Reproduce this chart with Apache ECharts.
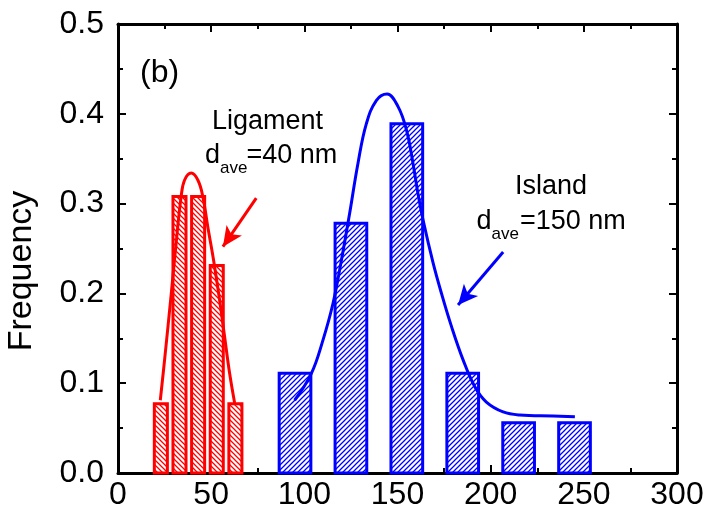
<!DOCTYPE html>
<html>
<head>
<meta charset="utf-8">
<script src="https://cdn.jsdelivr.net/npm/echarts@6/dist/echarts.min.js"></script>
<style>
  html, body { margin: 0; padding: 0; background: #fff; }
</style>
</head>
<body>
<div id="main" style="width: 709px;height: 516px;"></div>
<script>
  // histogram bins (size in nm) and frequencies
  let ligCenters = [23, 33, 43, 53, 63]
  let ligFreq = [0.077, 0.308, 0.308, 0.231, 0.077]
  let islCenters = [95, 125, 155, 185, 215, 245]
  let islFreq = [0.111, 0.278, 0.389, 0.111, 0.056, 0.056]

  // fitted curves
  let ligFitX = [22.7, 25, 28.6, 31.2, 33.9, 35.7, 39.3, 42.9, 45.5, 48.2, 51.3, 54.5, 57.2, 59.9, 62.6]
  let ligFitY = [0.081, 0.126, 0.200, 0.256, 0.308, 0.326, 0.334, 0.326, 0.308, 0.274, 0.237, 0.193, 0.152, 0.111, 0.078]
  let islFitX = [94.8, 103.8, 110, 115.4, 119.9, 124.3, 128.8, 133.3, 138.7, 144.4, 150.3, 154.8, 158.3, 161, 163.7, 169.1, 173.6, 179, 185.2, 191.5, 197.7, 206.7, 215.6, 233.5, 245.2]
  let islFitY = [0.081, 0.111, 0.148, 0.189, 0.237, 0.289, 0.345, 0.389, 0.415, 0.422, 0.408, 0.382, 0.345, 0.311, 0.282, 0.234, 0.200, 0.163, 0.126, 0.096, 0.079, 0.068, 0.0646, 0.0635, 0.0627]

  let xTicks = [0, 50, 100, 150, 200, 250, 300]
  let yTicks = [0.0, 0.1, 0.2, 0.3, 0.4, 0.5]

  let red = '#ff0000'
  let blue = '#0000ff'
  let font = '"Liberation Sans", Arial, sans-serif'

  function hatch (color, dir) {
    let s = 5
    let c = document.createElement('canvas')
    c.width = s
    c.height = s
    let g = c.getContext('2d')
    g.fillStyle = '#fff'
    g.fillRect(0, 0, s, s)
    g.strokeStyle = color
    g.lineWidth = 1.3
    g.beginPath()
    if (dir > 0) {
      g.moveTo(0, s); g.lineTo(s, 0)
      g.moveTo(-1, 1); g.lineTo(1, -1)
      g.moveTo(s - 1, s + 1); g.lineTo(s + 1, s - 1)
    } else {
      g.moveTo(0, 0); g.lineTo(s, s)
      g.moveTo(-1, s - 1); g.lineTo(1, s + 1)
      g.moveTo(s - 1, -1); g.lineTo(s + 1, 1)
    }
    g.stroke()
    return c
  }

  function barSeries (name, centers, freq, width, color, dir) {
    let pattern = hatch(color, dir)
    return {
      name: name,
      type: 'custom',
      silent: true,
      data: centers.map((c, i) => [c, freq[i]]),
      renderItem: function (params, api) {
        let x = api.value(0)
        let y = api.value(1)
        let p0 = api.coord([x - width / 2, y])
        let p1 = api.coord([x + width / 2, 0])
        return {
          type: 'rect',
          shape: { x: p0[0], y: p0[1], width: p1[0] - p0[0], height: p1[1] - p0[1] },
          style: { fill: { image: pattern, repeat: 'repeat' }, stroke: color, lineWidth: 3 }
        }
      }
    }
  }

  function arrow (from, to, color) {
    return {
      silent: true,
      animation: false,
      symbol: ['none', 'arrow'],
      symbolSize: [14, 20],
      label: { show: false },
      lineStyle: { color: color, width: 3, type: 'solid' },
      data: [[{ coord: from }, { coord: to }]]
    }
  }

  function axisCommon (show) {
    return {
      axisLine: { show: true, onZero: false, lineStyle: { color: '#000', width: 3 } },
      axisTick: { show: true, inside: true, length: 8, lineStyle: { color: '#000', width: 2 } },
      minorTick: { show: true, splitNumber: 2, length: 5, lineStyle: { color: '#000', width: 2 } },
      splitLine: { show: false },
      axisLabel: {
        show: show,
        fontFamily: font,
        fontSize: 32,
        color: '#000'
      }
    }
  }

  let chart = echarts.init(document.getElementById('main'), null, { renderer: 'canvas' })

  let xBase = { type: 'value', min: xTicks[0], max: xTicks[xTicks.length - 1], interval: 50 }
  let yBase = { type: 'value', min: yTicks[0], max: yTicks[yTicks.length - 1], interval: 0.1 }

  let xBottom = Object.assign({}, xBase, axisCommon(true), { position: 'bottom' })
  xBottom.axisLabel.margin = 6
  let xTop = Object.assign({}, xBase, axisCommon(false), { position: 'top' })
  let yLeft = Object.assign({}, yBase, axisCommon(true), { position: 'left' })
  yLeft.axisLabel.margin = 14
  yLeft.axisLabel.formatter = v => v.toFixed(1)
  let yRight = Object.assign({}, yBase, axisCommon(false), { position: 'right' })

  function txt (x, y, text, size, extra) {
    return Object.assign({
      type: 'text',
      x: x,
      y: y,
      silent: true,
      style: {
        text: text,
        fill: '#000',
        font: size + 'px ' + font,
        textAlign: 'left',
        textVerticalAlign: 'middle'
      }
    }, extra || {})
  }

  chart.setOption({
    animation: false,
    backgroundColor: '#fff',
    grid: { left: 118, right: 32, top: 24, bottom: 43 },
    xAxis: [xBottom, xTop],
    yAxis: [yLeft, yRight],
    series: [
      barSeries('Ligament', ligCenters, ligFreq, 7, red, -1),
      barSeries('Island', islCenters, islFreq, 17, blue, 1),
      {
        name: 'Ligament fit',
        type: 'line',
        smooth: 0.4,
        showSymbol: false,
        silent: true,
        lineStyle: { color: red, width: 3 },
        data: ligFitX.map((x, i) => [x, ligFitY[i]]),
        markLine: arrow([74.2, 0.306], [56.3, 0.252], red)
      },
      {
        name: 'Island fit',
        type: 'line',
        smooth: 0.4,
        showSymbol: false,
        silent: true,
        lineStyle: { color: blue, width: 3 },
        data: islFitX.map((x, i) => [x, islFitY[i]]),
        markLine: arrow([206.7, 0.246], [182.5, 0.187], blue)
      }
    ],
    graphic: [
      txt(22, 271, 'Frequency', 34, { rotation: Math.PI / 2, style: { text: 'Frequency', fill: '#000', font: '34px ' + font, textAlign: 'center', textVerticalAlign: 'middle' } }),
      txt(140, 73, '(b)', 32),
      txt(212, 122, 'Ligament', 27),
      txt(205, 155.5, 'd', 27),
      txt(220, 168, 'ave', 17),
      txt(246.5, 155.5, '=40 nm', 27),
      txt(515, 187, 'Island', 27),
      txt(476.5, 222, 'd', 27),
      txt(491.5, 234, 'ave', 17),
      txt(520, 222, '=150 nm', 27)
    ]
  })
</script>
</body>
</html>
